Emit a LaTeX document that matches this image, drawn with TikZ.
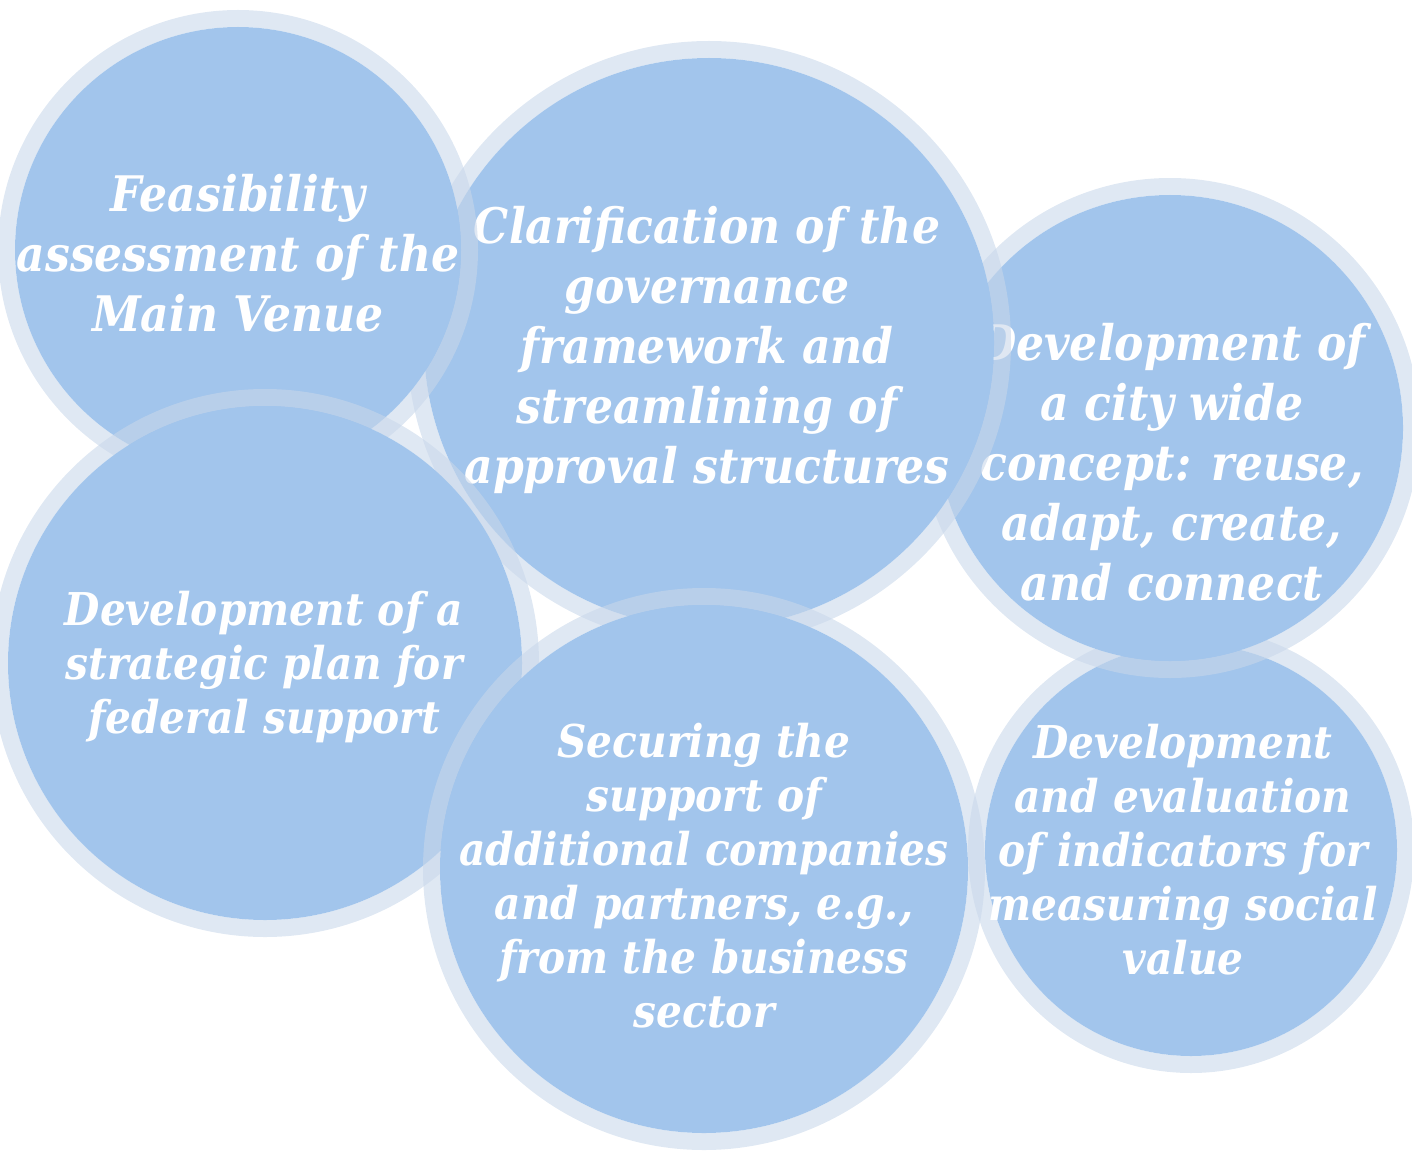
\documentclass[tikz,border=0pt]{standalone}
\usepackage{fontspec}
\setmainfont{DejaVu Serif}[FakeStretch=0.9]
\definecolor{bleubulle}{RGB}{162,197,236}
\definecolor{bleuanneau}{RGB}{200,215,234}
\tikzset{
	anneau/.style={draw=bleuanneau,draw opacity=0.58,line width=8.5pt},
	disque/.style={fill=bleubulle},
	gros/.style={text=white,align=center,font=\fontsize{24.5}{30}\selectfont\bfseries\itshape},
	petit/.style={text=white,align=center,font=\fontsize{22.6}{27}\selectfont\bfseries\itshape}
}
\begin{document}
\begin{tikzpicture}[x=0.5pt,y=-0.5pt]
		\useasboundingbox (0,0) rectangle (1412,1150);
		%bulles, de la plus basse a la plus haute
		\foreach \Centre/\Rayon/\Nom/\Pos/\Taille/\Texte in {%
			{(1191,850)}/206/indic/{(1183,850)}/petit/{Development\\and evaluation\\of indicators for\\measuring social\\value},%
			{(1170,428)}/233/ville/{(1172,462)}/gros/{Development of\\a city wide\\concept: reuse,\\adapt, create,\\and connect},%
			{(709,343)}/285/gouv/{(707,350)}/gros/{Clarification of the\\governance\\framework and\\streamlining of\\approval structures},%
			{(238,250)}/223/faisab/{(238,253)}/gros/{Feasibility\\assessment of the\\Main Venue},%
			{(265,663)}/257/plan/{(264,667)}/petit/{Development of a\\strategic plan for\\federal support},%
			{(704,869)}/264/soutien/{(704,876)}/petit/{Securing the\\support of\\additional companies\\and partners, e.g.,\\from the business\\sector}}%
		{
		\draw[anneau] \Centre circle[radius=\Rayon+8.5];
		\fill[disque] \Centre circle[radius=\Rayon];
		\node[\Taille] (\Nom) at \Pos {\Texte};
		}
	\end{tikzpicture}
\end{document}
